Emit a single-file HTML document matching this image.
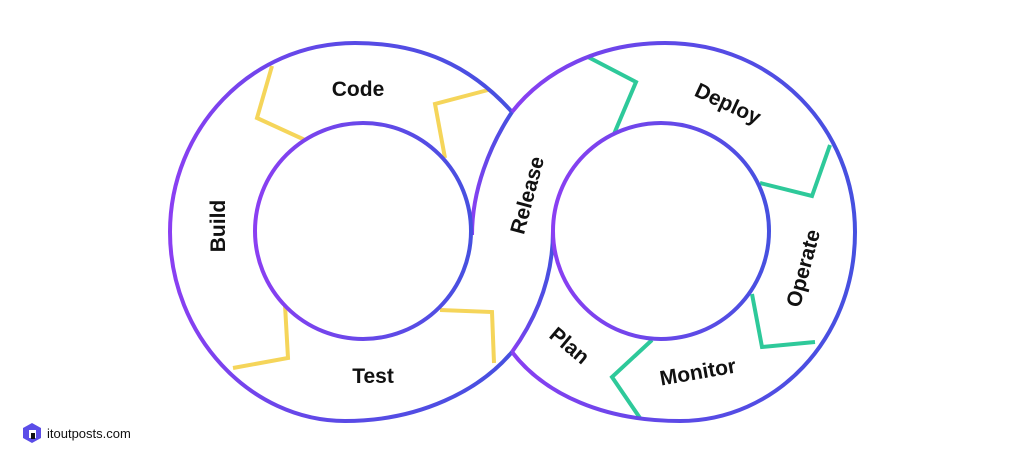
<!DOCTYPE html>
<html><head><meta charset="utf-8"><style>
html,body{margin:0;padding:0;background:#fff;}
svg{display:block;}
text{font-family:"Liberation Sans",sans-serif;font-weight:bold;fill:#111;}
</style></head><body>
<svg width="1024" height="463" viewBox="0 0 1024 463" xmlns="http://www.w3.org/2000/svg">
<defs>
<linearGradient id="g" x1="0" y1="0" x2="1" y2="0">
<stop offset="0" stop-color="#8a3ff2"/><stop offset="0.5" stop-color="#5a4ae6"/><stop offset="1" stop-color="#4650e0"/>
</linearGradient>
<linearGradient id="g2" x1="0" y1="0" x2="1" y2="0">
<stop offset="0" stop-color="#8a3ff2"/><stop offset="1" stop-color="#4650e0"/>
</linearGradient>
</defs>
<g fill="none" stroke-width="4" stroke-linejoin="miter">
<polyline points="272,66 257,118 305,140" stroke="#f5d55a"/>
<polyline points="488,90 435,104 445,158" stroke="#f5d55a"/>
<polyline points="233,368 288,358 285,305" stroke="#f5d55a"/>
<polyline points="440,310 492,312 494,363" stroke="#f5d55a"/>
<polyline points="588,57 636,82 614,134" stroke="#2ec99a"/>
<polyline points="830,145 812,196 760,183" stroke="#2ec99a"/>
<polyline points="752,294 762,347 815,342" stroke="#2ec99a"/>
<polyline points="652,340 612,377 640,418" stroke="#2ec99a"/>
</g>
<g fill="none" stroke="url(#g)" stroke-width="4">
<path d="M512,112 C470,65 420,43 355,43 C250,43 170,130 170,232 C170,335 250,421 345,421 C420,421 480,390 512,352"/>
<path d="M512,112 C545,70 600,43 665,43 C775,43 855,130 855,232 C855,340 775,421 680,421 C605,421 545,395 512,352"/>
<path d="M512,112 C490,145 472,190 472,235"/>
<path d="M553,231 C553,280 535,320 512,352"/>
</g>
<circle cx="363" cy="231" r="108" fill="none" stroke="url(#g2)" stroke-width="4"/>
<circle cx="661" cy="231" r="108" fill="none" stroke="url(#g2)" stroke-width="4"/>
<g font-size="21" text-anchor="middle">
<text x="358" y="96">Code</text>
<text transform="translate(225,226) rotate(-90)">Build</text>
<text x="373" y="383">Test</text>
<text transform="translate(534,197) rotate(-75)">Release</text>
<text transform="translate(725,110) rotate(25)">Deploy</text>
<text transform="translate(810,270) rotate(-75)">Operate</text>
<text transform="translate(699,379) rotate(-10)">Monitor</text>
<text transform="translate(565,351) rotate(40)">Plan</text>
</g>
<polygon points="32,423 41,428 41,438 32,443 23,438 23,428" fill="#5b4de8"/>
<rect x="29" y="430" width="7" height="8" fill="#fff"/>
<rect x="31" y="433" width="4" height="6" fill="#111"/>
<text x="47" y="438" font-size="13" style="font-weight:normal">itoutposts.com</text>
</svg>
</body></html>
